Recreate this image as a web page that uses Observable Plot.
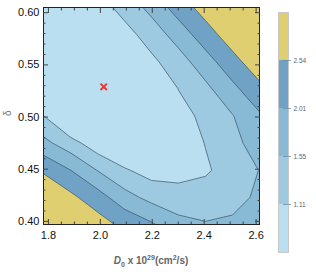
<!DOCTYPE html>
<html>
<head>
<meta charset="utf-8">
<script src="https://cdn.jsdelivr.net/npm/d3@7"></script>
<script src="https://cdn.jsdelivr.net/npm/@observablehq/plot@0.6"></script>
<style>
  html, body { margin: 0; padding: 0; background: #fff; }
  #wrap { position: relative; width: 316px; height: 278px; font-family: "Liberation Sans", Arial, sans-serif; }
  #main { position: absolute; left: 0; top: 0; }
  #bar { position: absolute; left: 270px; top: 0; }
  #xlabel { position: absolute; left: 43px; width: 216px; top: 255px; text-align: center; font-size: 10px; font-weight: bold; color: #666; white-space: nowrap; }
  #xlabel sub, #xlabel sup { font-size: 7px; line-height: 0; }
</style>
</head>
<body>
<div id="wrap">
  <div id="main"></div>
  <div id="bar"></div>
  <div id="xlabel"><i>D</i><sub>0</sub> x 10<sup>29</sup>(cm<sup>2</sup>/s)</div>
</div>
<script>
// Grid nodes (D0 in 1e29 cm^2/s, delta)
const d0Nodes = [1.781, 1.885, 1.989, 2.093, 2.197, 2.301, 2.405, 2.509, 2.613];
const deltaNodes = [0.605, 0.579, 0.553, 0.527, 0.501, 0.475, 0.449, 0.423, 0.397];
// Estimated statistic values on the grid, one row per delta node (top to bottom)
const row0605 = [0.80, 0.75, 0.90, 1.27, 1.68, 2.23, 2.78, 3.38, 3.97];
const row0579 = [0.70, 0.55, 0.60, 0.945, 1.31, 1.74, 2.28, 2.85, 3.44];
const row0553 = [0.60, 0.35, 0.25, 0.50, 1.015, 1.36, 1.80, 2.34, 2.91];
const row0527 = [0.60, 0.30, 0.05, 0.30, 0.50, 1.12, 1.445, 1.88, 2.39];
const row0501 = [1.12, 0.45, 0.20, 0.30, 0.50, 0.93, 1.23, 1.53, 1.94];
const row0475 = [1.68, 1.29, 0.84, 0.62, 0.50, 0.84, 1.125, 1.41, 1.77];
const row0449 = [2.42, 2.015, 1.537, 1.16, 0.93, 0.93, 1.05, 1.31, 1.56];
const row0423 = [3.35, 2.67, 2.22, 1.72, 1.41, 1.31, 1.32, 1.42, 1.62];
const row0397 = [4.30, 3.37, 2.81, 2.38, 2.07, 1.68, 1.58, 1.62, 1.75];

const contourLevels = [1.11, 1.55, 2.01, 2.54];
const legendLabels = ["1.11", "1.55", "2.01", "2.54"];
const bandColors = ["#badff1", "#9ecae1", "#88b9d5", "#70a2c6", "#dfcf70"];

const bestD0 = [2.013];
const bestDelta = [0.529];

const xMajor = [1.8, 2.0, 2.2, 2.4, 2.6];
const xMinor = [1.85, 1.9, 1.95, 2.05, 2.1, 2.15, 2.25, 2.3, 2.35, 2.45, 2.5, 2.55];
const yMajor = [0.40, 0.45, 0.50, 0.55, 0.60];
const yMinor = [0.41, 0.42, 0.43, 0.44, 0.46, 0.47, 0.48, 0.49, 0.51, 0.52, 0.53, 0.54, 0.56, 0.57, 0.58, 0.59];

// build flat grid for Plot.contour
const rows = [row0605, row0579, row0553, row0527, row0501, row0475, row0449, row0423, row0397];
const grid = rows.flat();
const nx = d0Nodes.length, ny = deltaNodes.length;
const dx = (d0Nodes[nx - 1] - d0Nodes[0]) / (nx - 1);
const dy = (deltaNodes[0] - deltaNodes[ny - 1]) / (ny - 1);

const tickColor = "#444";
const main = Plot.plot({
  width: 270,
  height: 278,
  marginLeft: 43,
  marginRight: 11,
  marginTop: 7,
  marginBottom: 54,
  style: { fontFamily: "Liberation Sans, Arial, sans-serif", background: "transparent" },
  x: { domain: [d0Nodes[0], d0Nodes[nx - 1]] },
  y: { domain: [deltaNodes[ny - 1], deltaNodes[0]] },
  color: { type: "threshold", domain: contourLevels, range: bandColors },
  marks: [
    Plot.contour(grid, {
      width: nx, height: ny,
      x1: d0Nodes[0] - dx / 2, x2: d0Nodes[nx - 1] + dx / 2,
      y1: deltaNodes[0] + dy / 2, y2: deltaNodes[ny - 1] - dy / 2,
      fill: Plot.identity,
      thresholds: [0, ...contourLevels],
      stroke: "#3a5568",
      strokeWidth: 0.7,
      clip: true
    }),
    Plot.dot(bestD0, { x: d => d, y: (d, i) => bestDelta[i], symbol: "times", r: 3, stroke: "#e8392f", strokeWidth: 2 }),
    Plot.frame({ stroke: "#222", strokeWidth: 1 }),
    Plot.axisX(xMajor, { anchor: "bottom", tickSize: -5, tickPadding: 12, tickFormat: d3.format(".1f"), fontSize: 11, stroke: tickColor, fill: "#111", label: null }),
    Plot.axisX(xMinor, { anchor: "bottom", tickSize: -2.5, tickFormat: () => "", stroke: tickColor, label: null }),
    Plot.axisX(xMajor, { anchor: "top", tickSize: -5, tickFormat: () => "", stroke: tickColor, label: null }),
    Plot.axisX(xMinor, { anchor: "top", tickSize: -2.5, tickFormat: () => "", stroke: tickColor, label: null }),
    Plot.axisY(yMajor, { anchor: "left", tickSize: -5, tickPadding: 9, tickFormat: d3.format(".2f"), fontSize: 11, stroke: tickColor, fill: "#111", label: null }),
    Plot.axisY(yMinor, { anchor: "left", tickSize: -2.5, tickFormat: () => "", stroke: tickColor, label: null }),
    Plot.axisY(yMajor, { anchor: "right", tickSize: -5, tickFormat: () => "", stroke: tickColor, label: null }),
    Plot.axisY(yMinor, { anchor: "right", tickSize: -2.5, tickFormat: () => "", stroke: tickColor, label: null }),
    Plot.text(["δ"], { frameAnchor: "left", dx: -36, rotate: -90, fill: "#777", fontSize: 10 })
  ]
});
document.getElementById("main").appendChild(main);

// vertical colour bar legend
const bandIdx = d3.range(bandColors.length);
const bar = Plot.plot({
  width: 46,
  height: 278,
  marginLeft: 8,
  marginRight: 28,
  marginTop: 12,
  marginBottom: 26,
  style: { fontFamily: "Liberation Sans, Arial, sans-serif", background: "transparent" },
  x: { domain: [0, 1], axis: null },
  y: { domain: [0, bandColors.length], axis: null },
  marks: [
    Plot.rect(bandIdx, { x1: 0, x2: 1, y1: i => i, y2: i => i + 1, fill: i => bandColors[i] }),
    Plot.frame({ stroke: "#c8c8c8" }),
    Plot.ruleY(d3.range(1, bandColors.length), { x1: 0.5, x2: 1.3, stroke: "#6f8ea3", strokeWidth: 0.8 }),
    Plot.axisY(d3.range(1, bandColors.length), { anchor: "right", tickSize: 0, tickPadding: 5, tickFormat: i => legendLabels[i - 1], fontSize: 6.5, fill: "#666", label: null })
  ]
});
document.getElementById("bar").appendChild(bar);
</script>
</body>
</html>
